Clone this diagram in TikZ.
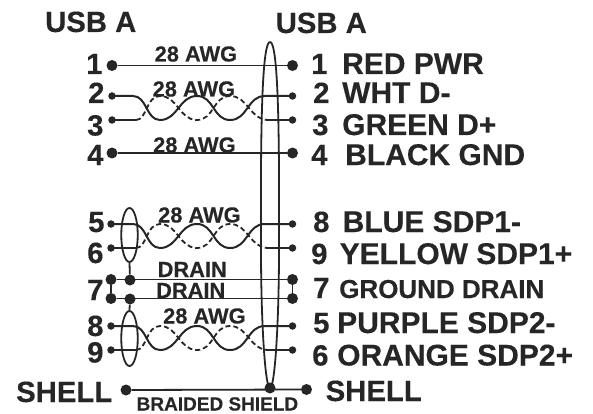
\documentclass[tikz,border=0pt]{standalone}
\usepackage{fontspec}
\usetikzlibrary{shapes.geometric}
\setmainfont{Liberation Sans}[BoldFeatures={FakeBold=0.25}]
\definecolor{ink}{HTML}{262626}
\tikzset{
  wire/.style={draw=ink,line width=1.8pt},
  twistwire/.style={draw=ink,line width=2pt},
  dashwire/.style={draw=ink,line width=1.8pt,dash pattern=on 5pt off 3pt},
  bigdot/.style={circle,fill=ink,inner sep=0pt,minimum size=11pt},
  smalldot/.style={circle,fill=ink,inner sep=0pt,minimum size=7.5pt},
  txt/.style={anchor=base west,inner sep=0pt,text=ink},
  big/.style={txt,font=\fontsize{29.3}{30}\selectfont\bfseries},
  lab/.style={txt,font=\fontsize{30}{30}\selectfont\bfseries},
  mid/.style={txt,font=\fontsize{26}{26}\selectfont\bfseries},
  awg/.style={txt,font=\fontsize{21.8}{22}\selectfont\bfseries},
  brd/.style={txt,font=\fontsize{19}{19}\selectfont\bfseries},
}
\newcommand{\pairtwist}[6]{%
  \path[twistwire] (#1.center) -- (133,#5) .. controls (147,#5) and (146,#6) .. (160,#6)
     .. controls (178,#6) and (179,#5) .. (197,#5)
     .. controls (214,#5) and (213,#6) .. (230,#6)
     .. controls (248,#6) and (247,#5) .. (265,#5) -- (#3.center);
  \path[wire] (#2.center) -- (136,#6);
  \path[dashwire] (136,#6) .. controls (147,#6) and (146,#5) .. (160,#5)
     .. controls (178,#5) and (179,#6) .. (197,#6)
     .. controls (214,#6) and (213,#5) .. (230,#5)
     .. controls (248,#5) and (250,#6) .. (268,#6);
  \path[wire] (268,#6) -- (#4.center);
}
\begin{document}
\begin{tikzpicture}[x=1pt,y=-1pt]
\useasboundingbox (0,0) rectangle (593,414);
\fill[white] (0,0) rectangle (593,414);
% pins
\node[bigdot] (L1) at (112,65.5) {};
\node[smalldot] (L2) at (112,96) {};
\node[smalldot] (L3) at (112,120) {};
\node[bigdot] (L4) at (112,153) {};
\node[smalldot] (L5) at (111,224) {};
\node[smalldot] (L6) at (111,248) {};
\node[bigdot] (L7a) at (111,279.5) {};
\node[bigdot] (L7b) at (111,298.5) {};
\node[smalldot] (L8) at (111,326) {};
\node[smalldot] (L9) at (111,350) {};
\node[bigdot] (D1) at (130,280) {};
\node[bigdot] (D2) at (130,299) {};
\node[bigdot] (LS) at (126,390) {};
\node[bigdot] (R1) at (292.5,65.5) {};
\node[smalldot] (R2) at (292.5,96) {};
\node[smalldot] (R3) at (292.5,120) {};
\node[bigdot] (R4) at (292.5,153) {};
\node[smalldot] (R8) at (292.5,224) {};
\node[smalldot] (R9) at (292.5,248) {};
\node[bigdot] (R7a) at (292.5,279.5) {};
\node[bigdot] (R7b) at (292.5,298.5) {};
\node[smalldot] (R5) at (292.5,326) {};
\node[smalldot] (R6) at (292.5,350) {};
\node[bigdot] (SC) at (270,388) {};
\node[bigdot] (RS) at (306.5,389.5) {};
% straight wires
\path[wire] (L1) -- (R1);
\path[wire] (L4) -- (R4);
\path[wire] (L7a) -- (R7a);
\path[wire] (L7b) -- (R7b);
\path[wire] (L7a) -- (L7b);
\path[wire] (R7a) -- (R7b);
\path[wire] (LS) -- (RS);
% twisted pairs
\pairtwist{L2}{L3}{R2}{R3}{96}{120}
\pairtwist{L5}{L6}{R8}{R9}{224}{248}
\pairtwist{L8}{L9}{R5}{R6}{326}{350}
% shields
\coordinate (ST) at (270,42);
\path[wire] (ST) .. controls (264,42) and (261.5,90) .. (261,170)
   -- (261,250) .. controls (261,320) and (265,388) .. (SC.center)
   .. controls (275,388) and (279,320) .. (279,250)
   -- (279,170) .. controls (278.5,90) and (276,42) .. (ST);
\node[draw=ink,line width=1.8pt,ellipse,inner sep=0pt,minimum width=16.5pt,minimum height=54pt] (E1) at (129.5,235) {};
\node[draw=ink,line width=1.8pt,ellipse,inner sep=0pt,minimum width=16.5pt,minimum height=55pt] (E2) at (129.5,338.5) {};
\path[wire] (E1.south) -- (D1);
\path[wire] (D2) -- (E2.north);
% labels
\node[big] (tUL) at (45,32) {USB A};
\node[big] (tUR) at (275.5,33) {USB A};
\node[big] (n1) at (86,74) {1};
\node[big] (n2) at (88,103) {2};
\node[big] (n3) at (87,135.5) {3};
\node[big] (n4) at (87,165) {4};
\node[big] (n5) at (88,232) {5};
\node[big] (n6) at (87,263) {6};
\node[big] (n7) at (87,300) {7};
\node[big] (n8) at (87,336) {8};
\node[big] (n9) at (87,362.5) {9};
\node[big] (sL) at (16,402) {SHELL};
\node[big] (sR) at (325.5,401) {SHELL};
\node[big] (m1) at (311,74) {1};
\node[big] (m2) at (313,103) {2};
\node[big] (m3) at (312,135) {3};
\node[big] (m4) at (311,165) {4};
\node[big] (m8) at (313,232) {8};
\node[big] (m9) at (311,264) {9};
\node[big] (m7) at (313,298) {7};
\node[big] (m5) at (313,333) {5};
\node[big] (m6) at (312,365.5) {6};
\node[lab] (c1) at (342,74) {RED PWR};
\node[lab] (c2) at (342,103) {WHT D-};
\node[lab] (c3) at (342,135) {GREEN D+};
\node[lab] (c4) at (345,165) {BLACK GND};
\node[lab] (c8) at (342.5,232) {BLUE SDP1-};
\node[lab] (c9) at (339.5,264) {YELLOW SDP1+};
\node[mid] (c7) at (339,298) {GROUND DRAIN};
\node[lab] (c5) at (337,333) {PURPLE SDP2-};
\node[lab] (c6) at (337,365.5) {ORANGE SDP2+};
\node[awg] (a1) at (154.5,61.5) {28 AWG};
\node[awg] (a2) at (152.5,96.5) {28 AWG};
\node[awg] (a3) at (153,152.5) {28 AWG};
\node[awg] (a4) at (158,222.5) {28 AWG};
\node[awg] (a5) at (163,323.5) {28 AWG};
\node[awg] (d1) at (157.5,277) {DRAIN};
\node[awg] (d2) at (156,298) {DRAIN};
\node[brd] (b1) at (136.5,410.5) {BRAIDED SHIELD};
\end{tikzpicture}
\end{document}
